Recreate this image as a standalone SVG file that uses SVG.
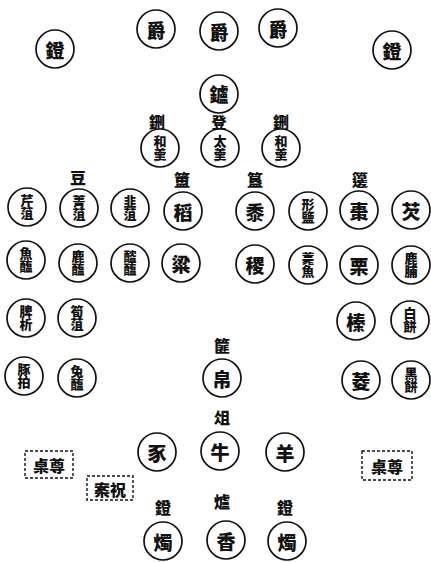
<svg xmlns="http://www.w3.org/2000/svg" width="431" height="562" viewBox="0 0 431 562">
<style>
.c{fill:#fff;stroke:#111;stroke-width:1.7}
.t{font-family:"Noto Sans CJK TC","Noto Sans CJK SC",sans-serif;font-weight:900;fill:#111;text-anchor:middle;dominant-baseline:central}
.s{font-size:19px}
.m{font-size:13px;writing-mode:vertical-rl;letter-spacing:0}
.l{font-size:16px}
.b{fill:#fff;stroke:#111;stroke-width:1.4;stroke-dasharray:3 2}
</style>
<rect width="431" height="562" fill="#fff"/>
<defs><circle id="o" r="19" class="c"/></defs>

<g id="jue1"><use href="#o" x="156" y="29"/><text class="t s" x="156" y="29">爵</text></g>
<g id="jue2"><use href="#o" x="219" y="31"/><text class="t s" x="219" y="31">爵</text></g>
<g id="jue3"><use href="#o" x="278" y="28"/><text class="t s" x="278" y="28">爵</text></g>
<g id="deng-l"><use href="#o" x="55" y="49"/><text class="t s" x="55" y="49">鐙</text></g>
<g id="deng-r"><use href="#o" x="392" y="50"/><text class="t s" x="392" y="50">鐙</text></g>
<g id="lu"><use href="#o" x="219" y="94"/><text class="t s" x="219" y="93">鑪</text></g>

<g id="lbl-xing1"><text class="t l" x="157" y="121">鉶</text></g>
<g id="lbl-deng"><text class="t l" x="219" y="121" style="font-size:15px">登</text></g>
<g id="lbl-xing2"><text class="t l" x="281" y="121">鉶</text></g>
<g id="hegeng1"><use href="#o" x="160" y="148"/><text class="t m" x="160" y="148">和羹</text></g>
<g id="taigeng"><use href="#o" x="220" y="148"/><text class="t m" x="220" y="148">太羹</text></g>
<g id="hegeng2"><use href="#o" x="281" y="148"/><text class="t m" x="281" y="148">和羹</text></g>

<g id="lbl-dou"><text class="t l" x="78" y="177">豆</text></g>
<g id="lbl-fu"><text class="t l" x="182" y="179">簠</text></g>
<g id="lbl-gui"><text class="t l" x="255" y="179">簋</text></g>
<g id="lbl-bian"><text class="t l" x="360" y="179">籩</text></g>

<g id="qinzu"><use href="#o" x="27" y="207"/><text class="t m" x="27" y="207">芹菹</text></g>
<g id="jingzu"><use href="#o" x="79" y="208"/><text class="t m" x="79" y="208">菁菹</text></g>
<g id="jiuzu"><use href="#o" x="130" y="208"/><text class="t m" x="130" y="208">韭菹</text></g>
<g id="dao"><use href="#o" x="183" y="211"/><text class="t s" x="183" y="211">稻</text></g>
<g id="shu"><use href="#o" x="255" y="211"/><text class="t s" x="255" y="211">黍</text></g>
<g id="xingyan"><use href="#o" x="308" y="211"/><text class="t m" x="308" y="211">形鹽</text></g>
<g id="zao"><use href="#o" x="359" y="210"/><text class="t s" x="359" y="210">棗</text></g>
<g id="qian"><use href="#o" x="411" y="210"/><text class="t s" x="411" y="210">芡</text></g>

<g id="yuhai"><use href="#o" x="26" y="260"/><text class="t m" x="26" y="260">魚醢</text></g>
<g id="luhai"><use href="#o" x="78" y="263"/><text class="t m" x="78" y="263">鹿醢</text></g>
<g id="tanhai"><use href="#o" x="130" y="263"/><text class="t m" x="130" y="263">醓醢</text></g>
<g id="liang"><use href="#o" x="181" y="263"/><text class="t s" x="181" y="263">粱</text></g>
<g id="ji"><use href="#o" x="255" y="264"/><text class="t s" x="255" y="264">稷</text></g>
<g id="kaoyu"><use href="#o" x="308" y="265"/><text class="t m" x="308" y="265">薧魚</text></g>
<g id="li"><use href="#o" x="359" y="265"/><text class="t s" x="359" y="265">栗</text></g>
<g id="lufu"><use href="#o" x="411" y="265"/><text class="t m" x="411" y="265">鹿脯</text></g>

<g id="pixi"><use href="#o" x="26" y="318"/><text class="t m" x="26" y="318">脾析</text></g>
<g id="sunzu"><use href="#o" x="77" y="318"/><text class="t m" x="77" y="318">筍菹</text></g>
<g id="zhen"><use href="#o" x="356" y="321"/><text class="t s" x="356" y="321">榛</text></g>
<g id="baibing"><use href="#o" x="410" y="320"/><text class="t m" x="410" y="320">白餅</text></g>

<g id="lbl-fei"><text class="t l" x="222" y="345">篚</text></g>
<g id="tunpai"><use href="#o" x="24" y="376"/><text class="t m" x="24" y="376">豚拍</text></g>
<g id="tuhai"><use href="#o" x="77" y="378"/><text class="t m" x="77" y="378">兔醢</text></g>
<g id="bo"><use href="#o" x="222" y="378"/><text class="t s" x="222" y="378">帛</text></g>
<g id="ling"><use href="#o" x="361" y="380"/><text class="t s" x="361" y="380">菱</text></g>
<g id="heibing"><use href="#o" x="411" y="380"/><text class="t m" x="411" y="380">黑餅</text></g>

<g id="lbl-zu"><text class="t l" x="222" y="417">俎</text></g>
<g id="shi"><use href="#o" x="157" y="452"/><text class="t s" x="157" y="452">豕</text></g>
<g id="niu"><use href="#o" x="220" y="451"/><text class="t s" x="220" y="451">牛</text></g>
<g id="yang"><use href="#o" x="285" y="452"/><text class="t s" x="285" y="452">羊</text></g>

<g id="zunzhuo-l"><rect class="b" x="25" y="451" width="48" height="27"/><text class="t l" x="49" y="465">桌尊</text></g>
<g id="zunzhuo-r"><rect class="b" x="362" y="451" width="50" height="29"/><text class="t l" x="387" y="466">桌尊</text></g>
<g id="zhuan"><rect class="b" x="87" y="476" width="46" height="24"/><text class="t l" x="110" y="489">案祝</text></g>

<g id="lbl-deng-l"><text class="t l" x="163" y="507">鐙</text></g>
<g id="lbl-lu"><text class="t l" x="222" y="501">爐</text></g>
<g id="lbl-deng-r"><text class="t l" x="285" y="507">鐙</text></g>
<g id="zhu-l"><use href="#o" x="163" y="541"/><text class="t s" x="163" y="541">燭</text></g>
<g id="xiang"><use href="#o" x="226" y="540"/><text class="t s" x="226" y="540">香</text></g>
<g id="zhu-r"><use href="#o" x="287" y="541"/><text class="t s" x="287" y="541">燭</text></g>
</svg>
